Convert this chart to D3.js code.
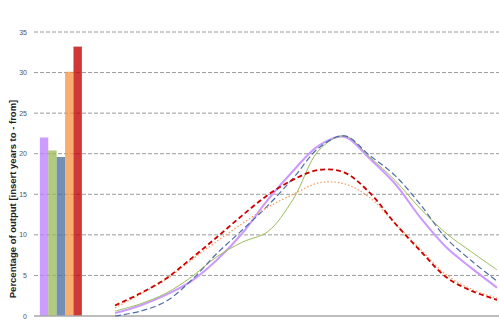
<!DOCTYPE html>
<html>
  <head>
    <meta charset="utf-8">
    <script src="https://d3js.org/d3.v7.min.js"></script>
    <style>
      body { margin: 0; background: #fff; }
      svg { display: block; font-family: "Liberation Sans", Arial, sans-serif; }
    </style>
  </head>
  <body>
    <div id="container"></div>
    <script>
      // DATA
      const seriesNames = ["purple", "green", "blue", "orange", "red"];
      const barValues = [22.0, 20.4, 19.6, 30.1, 33.2];
      const yTicks = [0, 5, 10, 15, 20, 25, 30, 35];
      const steps = d3.range(16);
      const purpleVals = [0.35, 1.3, 2.6, 4.3, 6.9, 10.2, 14.3, 17.9, 21.0, 22.1, 19.4, 16.3, 12.1, 8.5, 5.9, 3.5];
      const greenVals  = [0.6, 1.5, 2.8, 4.8, 7.3, 9.1, 10.4, 14.4, 20.4, 22.2, 19.6, 16.7, 13.2, 10.2, 7.9, 5.7];
      const blueVals   = [0.0, 0.6, 1.8, 4.4, 7.7, 10.6, 13.6, 17.0, 20.7, 22.2, 19.8, 17.3, 13.7, 9.6, 6.8, 4.3];
      const orangeVals = [1.0, 2.7, 4.5, 6.9, 9.2, 11.4, 13.4, 15.0, 16.4, 16.3, 14.6, 11.4, 8.2, 5.1, 3.3, 2.2];
      const redVals    = [1.3, 2.8, 4.6, 7.1, 9.7, 12.4, 14.9, 16.8, 18.0, 17.7, 15.2, 11.4, 8.0, 4.8, 3.1, 2.0];

      // SET DIMENSIONS
      const width = 499, height = 323;
      const plotLeft = 34, plotRight = 499, plotTop = 32, plotBottom = 316;

      const svg = d3.select("#container")
        .append("svg")
        .attr("width", width)
        .attr("height", height);

      // SCALES
      const y = d3.scaleLinear().domain([0, 35]).range([plotBottom, plotTop]);
      const x = d3.scaleLinear().domain([-3.18, 15.08]).range([plotLeft, plotRight]);
      const xBar = d3.scaleBand()
        .domain(seriesNames)
        .range([x(-2.95), x(-1.3)]);

      // GRIDLINES
      svg.append("g")
        .selectAll("line")
        .data(yTicks.filter(d => d > 0))
        .enter()
        .append("line")
        .attr("x1", plotLeft)
        .attr("x2", plotRight)
        .attr("y1", d => y(d))
        .attr("y2", d => y(d))
        .attr("stroke", "#9a9a9a")
        .attr("stroke-width", 1)
        .attr("stroke-dasharray", "4,2");

      // TICK LABELS
      svg.append("g")
        .selectAll("text")
        .data(yTicks)
        .enter()
        .append("text")
        .attr("x", 27)
        .attr("y", d => y(d) + 2.5)
        .attr("text-anchor", "end")
        .attr("font-size", "7px")
        .attr("fill", "#555")
        .text(d => d);

      // BARS
      const barColors = ["#bf80ff", "#9bbb59", "#4a6fa0", "#f79646", "#c00000"];
      svg.append("g")
        .selectAll("rect")
        .data(seriesNames)
        .enter()
        .append("rect")
        .attr("x", d => xBar(d))
        .attr("width", xBar.bandwidth())
        .attr("y", (d, i) => y(barValues[i]))
        .attr("height", (d, i) => y(0) - y(barValues[i]))
        .attr("fill", (d, i) => barColors[i])
        .attr("opacity", 0.78);

      // X AXIS LINE
      svg.append("line")
        .attr("x1", plotLeft)
        .attr("x2", plotRight)
        .attr("y1", y(0))
        .attr("y2", y(0))
        .attr("stroke", "#a8a8a8")
        .attr("stroke-width", 1.6);

      // CURVES
      const line = d3.line()
        .x((d, i) => x(steps[i]))
        .y(d => y(d))
        .curve(d3.curveCatmullRom.alpha(0.5));

      const curves = [
        { vals: purpleVals, color: "#cc99ff", w: 2, dash: null },
        { vals: greenVals, color: "#9bbb59", w: 1, dash: null },
        { vals: blueVals, color: "#4f6fa5", w: 1.2, dash: "6,3" },
        { vals: orangeVals, color: "#f9a060", w: 1.3, dash: "1.5,2" },
        { vals: redVals, color: "#cc0000", w: 1.8, dash: "5,3" }
      ];

      svg.append("g")
        .selectAll("path")
        .data(curves)
        .enter()
        .append("path")
        .attr("d", d => line(d.vals))
        .attr("fill", "none")
        .attr("stroke", d => d.color)
        .attr("stroke-width", d => d.w)
        .attr("stroke-dasharray", d => d.dash);

      // Y AXIS TITLE
      svg.append("text")
        .attr("transform", "translate(16,199) rotate(-90)")
        .attr("text-anchor", "middle")
        .attr("font-size", "9.5px")
        .attr("font-weight", "bold")
        .attr("fill", "#222")
        .text("Percentage of output  [insert years to - from]");
    </script>
  </body>
</html>
